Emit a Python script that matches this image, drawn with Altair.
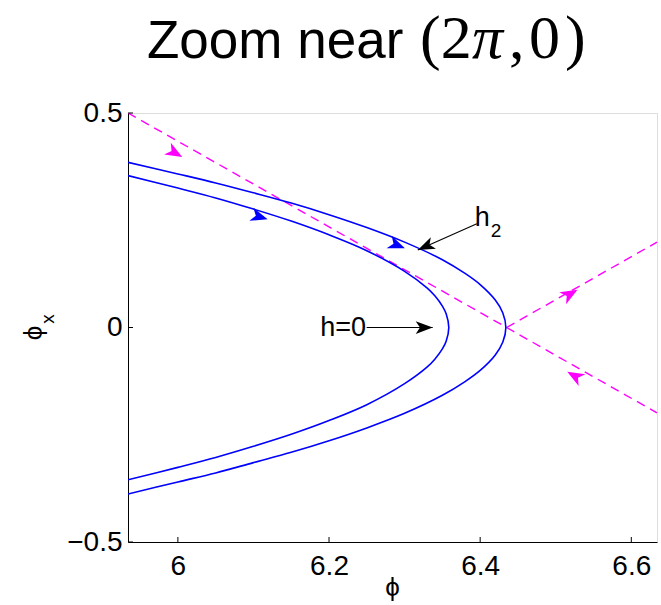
import altair as alt
import pandas as pd

# ---------------- data ----------------
x_ticks = [6.0, 6.2, 6.4, 6.6]
y_ticks = [-0.5, 0.0, 0.5]
x_domain = [5.934, 6.634]
y_domain = [-0.5, 0.5]

# outer orbit (h2)
outer_x = [5.934, 6.0, 6.05, 6.1, 6.15, 6.2, 6.25, 6.3, 6.35, 6.38, 6.40, 6.42, 6.43, 6.434]
outer_up = [0.385, 0.358, 0.337, 0.314, 0.290, 0.263, 0.233, 0.199, 0.158, 0.126, 0.100, 0.064, 0.034, 0.0]
outer_lo = [-0.388, -0.360, -0.339, -0.315, -0.291, -0.264, -0.234, -0.200, -0.158, -0.126, -0.100, -0.064, -0.034, 0.0]

# inner orbit (h=0)
inner_x = [5.934, 6.0, 6.05, 6.1, 6.15, 6.2, 6.25, 6.3, 6.33, 6.34, 6.35, 6.355, 6.3585]
inner_up = [0.354, 0.325, 0.302, 0.276, 0.248, 0.216, 0.179, 0.131, 0.092, 0.074, 0.050, 0.032, 0.0]
inner_lo = [-0.355, -0.326, -0.303, -0.277, -0.249, -0.217, -0.180, -0.131, -0.092, -0.074, -0.050, -0.032, 0.0]

# separatrices (dashed magenta)
sep_a_x = [5.934, 6.435, 6.634]
sep_a_y = [0.5, 0.0, -0.199]
sep_b_x = [6.435, 6.634]
sep_b_y = [0.0, 0.199]

# flow-direction arrowheads
arr_x = [5.996, 6.519, 6.525, 6.108, 6.290]
arr_y = [0.407, 0.078, -0.113, 0.258, 0.192]
arr_angle = [29.6, 330.4, 209.6, 17.0, 22.0]
arr_color = ["#ff00ff", "#ff00ff", "#ff00ff", "#0000ff", "#0000ff"]

# annotation arrows
ann_x1 = [6.3956, 6.2498]
ann_y1 = [0.2417, 0.0]
ann_x2 = [6.3175, 6.3372]
ann_y2 = [0.1809, 0.0]
ann_angle = [156.2, 0.0]

# ---------------- build tables ----------------
rows = []
o = 0
for name, xs_, up, lo in [("outer", outer_x, outer_up, outer_lo), ("inner", inner_x, inner_up, inner_lo)]:
    for xv, yv in zip(xs_, up):
        rows.append({"curve": name, "x": xv, "y": yv, "o": o}); o += 1
    for xv, yv in list(zip(xs_, lo))[::-1][1:]:
        rows.append({"curve": name, "x": xv, "y": yv, "o": o}); o += 1
curves = pd.DataFrame(rows)

sep_rows = []
for name, xs_, ys_ in [("a", sep_a_x, sep_a_y), ("b", sep_b_x, sep_b_y)]:
    for i, (xv, yv) in enumerate(zip(xs_, ys_)):
        sep_rows.append({"line": name, "x": xv, "y": yv, "o": i})
seps = pd.DataFrame(sep_rows)

arrows = pd.DataFrame({"x": arr_x, "y": arr_y, "angle": arr_angle, "c": arr_color})

ann_rows = []
for i in range(len(ann_x1)):
    ann_rows.append({"id": i, "x": ann_x1[i], "y": ann_y1[i], "o": 0})
    ann_rows.append({"id": i, "x": ann_x2[i], "y": ann_y2[i], "o": 1})
ann_lines = pd.DataFrame(ann_rows)
ann_heads = pd.DataFrame({"x": ann_x2, "y": ann_y2, "angle": ann_angle})

xt = pd.DataFrame({"x": x_ticks})
yt = pd.DataFrame({"y": y_ticks})

labels = pd.DataFrame({
    "x": [6.393, 6.414, 6.249],
    "y": [0.237, 0.211, 0.0],
    "text": ["h", "2", "h=0"],
})

W, H = 529, 429
FONT = "Liberation Sans"

xs = alt.Scale(domain=x_domain, nice=False, zero=False)
ys = alt.Scale(domain=y_domain, nice=False, zero=False)

x_axis = alt.Axis(values=x_ticks, format="~g", ticks=False, tickSize=0, grid=False, title=None,
                  domainColor="#000000", domainWidth=1, labelFont=FONT, labelFontSize=28,
                  labelColor="black", labelPadding=10, labelFlush=False, labelOverlap=False)
y_axis = alt.Axis(values=y_ticks, format="~g", ticks=False, tickSize=0, grid=False, title=None,
                  domainColor="#000000", domainWidth=1, labelFont=FONT, labelFontSize=28,
                  labelColor="black", labelPadding=6, labelFlush=False, labelOverlap=False)


def X(f="x"):
    return alt.X(f"{f}:Q", scale=xs, axis=x_axis)


def Y(f="y"):
    return alt.Y(f"{f}:Q", scale=ys, axis=y_axis)


curve_layer = alt.Chart(curves).mark_line(color="#0000ff", strokeWidth=1.6, interpolate="catmull-rom", clip=True).encode(
    x=X(), y=Y(), detail="curve:N", order="o:Q",
)

sep_layer = alt.Chart(seps).mark_line(color="#ff00ff", strokeWidth=1.4, strokeDash=[9, 6], clip=True).encode(
    x=X(), y=Y(), detail="line:N", order="o:Q",
)

arrow_shape = "M1,0 L-1,-0.8 L-0.45,0 L-1,0.8 Z"
arrow_layer = alt.Chart(arrows).mark_point(shape=arrow_shape, filled=True, size=290, opacity=1, strokeWidth=0).encode(
    x=X(), y=Y(),
    angle=alt.Angle("angle:Q", scale=None),
    color=alt.Color("c:N", scale=None),
)

ann_line_layer = alt.Chart(ann_lines).mark_line(color="black", strokeWidth=1.1).encode(
    x=X(), y=Y(), detail="id:N", order="o:Q",
)

tip_shape = "M0,0 L-2,-0.75 L-1.5,0 L-2,0.75 Z"
ann_head_layer = alt.Chart(ann_heads).mark_point(shape=tip_shape, filled=True, size=289, color="black", opacity=1, strokeWidth=0).encode(
    x=X(), y=Y(), angle=alt.Angle("angle:Q", scale=None),
)

lab_h = alt.Chart(labels.iloc[[0]]).mark_text(font=FONT, fontSize=27, align="left", baseline="alphabetic", color="black").encode(
    x=X(), y=Y(), text="text:N")
lab_2 = alt.Chart(labels.iloc[[1]]).mark_text(font=FONT, fontSize=19, align="left", baseline="alphabetic", color="black").encode(
    x=X(), y=Y(), text="text:N")
lab_h0 = alt.Chart(labels.iloc[[2]]).mark_text(font=FONT, fontSize=27, align="right", baseline="middle", color="black").encode(
    x=X(), y=Y(), text="text:N")

# inward tick marks
xtick_layer = alt.Chart(xt).mark_rule(color="black", strokeWidth=1).encode(
    x=X(), y=alt.value(H), y2=alt.value(H - 5))
ytick_layer = alt.Chart(yt).mark_rule(color="black", strokeWidth=1).encode(
    y=Y(), x=alt.value(0), x2=alt.value(5))

one = pd.DataFrame({"k": [0]})


def txt(text, x, y, size, font=FONT, style="normal", align="left", angle=0, baseline="alphabetic"):
    kw = dict(text=text, font=font, fontSize=size, align=align, baseline=baseline, color="black", fontStyle=style)
    if angle:
        kw["angle"] = angle
    return alt.Chart(one).mark_text(**kw).encode(x=alt.value(x), y=alt.value(y))


SERIF = "Liberation Serif"
title_parts = [
    txt("Zoom near", 19, -55, 53),
    txt("(2", 292, -55, 62, font=SERIF),
    txt("π", 344, -55, 62, font=SERIF, style="italic"),
    txt(",", 381, -55, 62, font=SERIF),
    txt("0", 401, -55, 62, font=SERIF),
    txt(")", 437, -55, 62, font=SERIF),
]
xtitle = txt("ϕ", W / 2, 475, 26, align="center", baseline="middle")
ytitle = txt("ϕ", -94, 220, 26, align="center", baseline="middle", angle=270)
ytitle_sub = txt("x", -80, 206, 19, align="center", baseline="middle", angle=270)

chart = alt.layer(
    sep_layer, curve_layer, arrow_layer, ann_line_layer, ann_head_layer,
    lab_h, lab_2, lab_h0, xtick_layer, ytick_layer,
    *title_parts, xtitle, ytitle, ytitle_sub,
).properties(
    width=W, height=H,
    autosize=alt.AutoSizeParams(type="none"),
    padding={"left": 128, "top": 113, "right": 4, "bottom": 63},
).configure_view(stroke=None).configure(background="white")

chart.save("out.html", embed_options={"renderer": "svg", "actions": False})
